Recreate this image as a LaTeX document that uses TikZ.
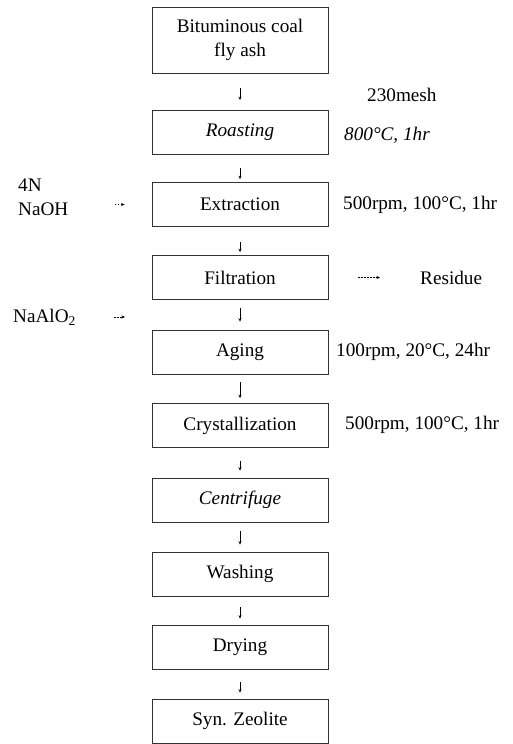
\documentclass[tikz,border=0pt]{standalone}
\usepackage{fontspec}
\setmainfont{Liberation Serif}
\usetikzlibrary{arrows.meta}
\begin{document}
\begin{tikzpicture}[x=1pt,y=-1pt,
  font=\fontsize{19.2}{24}\selectfont,
  stepbox/.style={draw=black!80, line width=0.7pt, minimum width=176pt, minimum height=44pt, inner sep=0pt, align=center},
  flow/.style={-{Stealth[length=3.5pt,width=3pt]}, line width=0.6pt, shorten <=11pt, shorten >=6pt},
  feed/.style={-{Stealth[length=3.5pt,width=3pt]}, line width=0.6pt, dash pattern=on 1.5pt off 1.5pt},
  side/.style={anchor=west, inner sep=0pt}]
\useasboundingbox (0,0) rectangle (512,744);

\node[stepbox, minimum height=66pt] (ash) at (240,40) {Bituminous coal\\fly ash};
\node[stepbox] (roast) at (240,132.5) {\itshape Roasting};
\node[stepbox] (extr) at (240,204.5) {Extraction};
\node[stepbox] (filt) at (240,277.5) {Filtration};
\node[stepbox] (aging) at (240,352) {Aging};
\node[stepbox] (cryst) at (240,425.5) {Crystallization};
\node[stepbox] (centr) at (240,500) {\itshape Centrifuge};
\node[stepbox] (wash) at (240,574) {Washing};
\node[stepbox] (dry) at (240,647) {Drying};
\node[stepbox] (zeo) at (240,721) {Syn. Zeolite};

\draw[flow, shorten <=15pt, shorten >=10pt] (ash) -- (roast);
\draw[flow, shorten <=13pt, shorten >=3pt] (roast) -- (extr);
\draw[flow, shorten <=15pt, shorten >=3pt] (extr) -- (filt);
\draw[flow, shorten <=8pt, shorten >=8pt] (filt) -- (aging);
\draw[flow, shorten <=8pt, shorten >=5pt] (aging) -- (cryst);
\draw[flow, shorten <=13pt, shorten >=7pt] (cryst) -- (centr);
\draw[flow, shorten <=9pt, shorten >=7pt] (centr) -- (wash);
\draw[flow] (wash) -- (dry);
\draw[flow, shorten <=13pt, shorten >=6pt] (dry) -- (zeo);

\node[side] (mesh) at (367,95) {230mesh};
\node[side] (c1) at (344,135) {\itshape 800°C, 1hr};
\node[side] (c2) at (343,205) {500rpm, 100°C, 1hr};
\node[side] (c3) at (336,352) {100rpm, 20°C, 24hr};
\node[side] (c4) at (345,425) {500rpm, 100°C, 1hr};

\node[side, align=left] (naoh) at (18,197) {4N\\NaOH};
\node[side] (resid) at (420,277.5) {Residue};
\node[side] (naal) at (13,317) {NaAlO\textsubscript{2}};
\coordinate (join) at (152,317);

\draw[feed, shorten <=46pt, shorten >=27pt] (naoh.east |- extr.west) -- (extr.west);
\draw[feed, shorten <=30pt, shorten >=40pt] (filt.east) -- (resid.west);
\draw[feed, shorten <=38pt, shorten >=27pt] (naal.east) -- (join);
\end{tikzpicture}
\end{document}
